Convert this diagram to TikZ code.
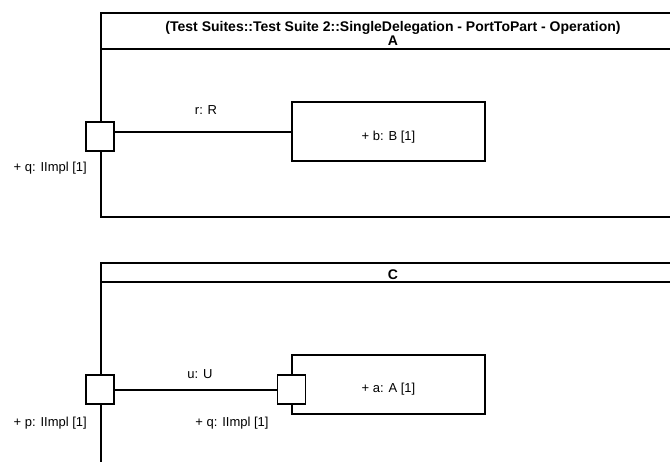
\documentclass[tikz,border=0pt]{standalone}
\usepackage{fontspec}
\setmainfont{Liberation Sans}
\usepackage{tikz}
\usetikzlibrary{positioning,calc}

\begin{document}
\begin{tikzpicture}[
  x=1pt,y=-1pt,
  font=\fontsize{13}{15}\selectfont,
  frame/.style={draw,line width=1.8pt,fill=white,inner sep=0pt,anchor=north west},
  part/.style={draw,line width=1.8pt,fill=white,inner sep=0pt,
               minimum width=193pt,minimum height=59pt},
  port/.style={draw,line width=1.8pt,fill=white,inner sep=0pt,
               minimum width=28pt,minimum height=29pt},
  conn/.style={draw,line width=2pt},
  lbl/.style={inner sep=0pt},
  ttl/.style={inner sep=0pt,anchor=base,font=\fontsize{14}{16}\selectfont\bfseries},
]
\useasboundingbox (0,0) rectangle (670,461);
\clip (0,0) rectangle (670,461);

% Frame A
\node[frame,minimum width=586pt,minimum height=204pt] (fA) at (100,12) {};
\draw[line width=1.8pt] (100,49) -- (686,49);
\node[ttl] (tA) at (393,31) {(Test Suites::Test Suite 2::SingleDelegation - PortToPart - Operation)};
\node[ttl] (nA) at (393,45) {A};

% Part b and port q of A
\node[part] (b) at (388.5,131.5) {};
\node[lbl] (bl) at (388.5,137) {+ b: B [1]};
\node[port] (q) at (100,136.5) {};
\node[lbl,anchor=east] (ql) at (87,168) {+ q: IImpl [1]};

\draw[conn] (q.east |- b.west) -- (b.west);
\node[lbl] (r) at (206,110) {r: R};

% Frame C
\node[frame,minimum width=586pt,minimum height=230pt] (fC) at (100,262) {};
\draw[line width=1.8pt] (100,282) -- (686,282);
\node[ttl] (nC) at (393,279) {C};

% Part a with its port, and port p of C
\node[part] (a) at (388.5,384.5) {};
\node[lbl] (al) at (388.5,389) {+ a: A [1]};
\node[port] (qa) at (291.5,389.5) {};
\node[lbl] (qal) at (232,423) {+ q: IImpl [1]};
\node[port] (p) at (100,389.5) {};
\node[lbl,anchor=east] (pl) at (87,423) {+ p: IImpl [1]};

\draw[conn] (p.east) -- (qa.west);
\node[lbl] (u) at (200,374) {u: U};
\end{tikzpicture}
\end{document}
